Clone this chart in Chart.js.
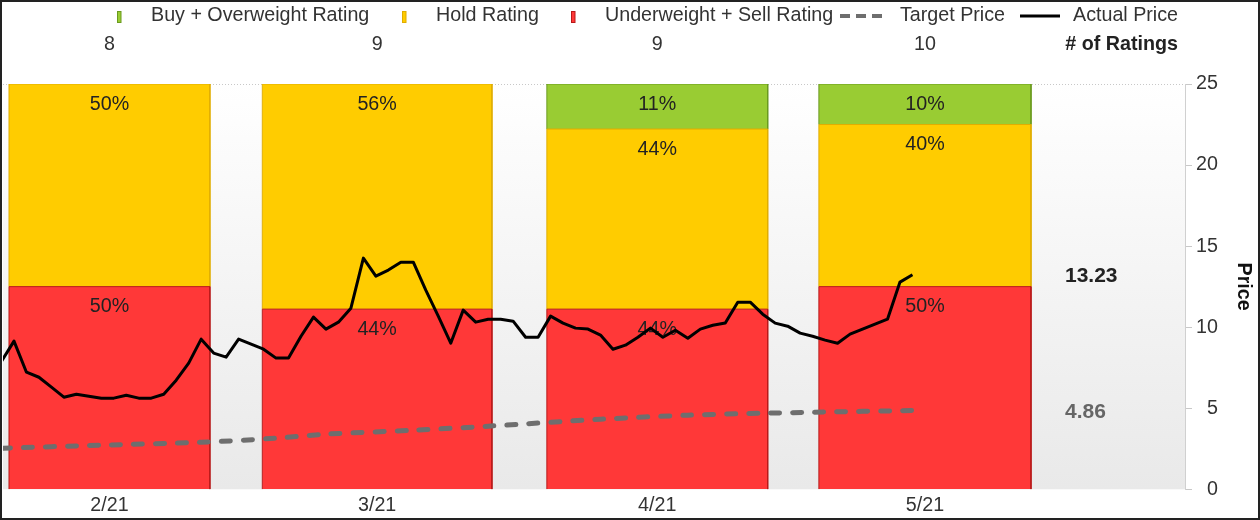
<!DOCTYPE html>
<html><head><meta charset="utf-8">
<script src="https://cdn.jsdelivr.net/npm/chart.js@4.4.0/dist/chart.umd.min.js"></script>
<style>html,body{margin:0;padding:0;background:#fff}#wrap{width:1260px;height:520px;position:relative}</style>
</head><body><div id="wrap"><canvas id="c"></canvas></div>
<script>
// ---- data ----
const months = ['2/21', '3/21', '4/21', '5/21'];
const monthStart = [0.6, 20.9, 43.7, 65.5];   // in trading-day units
const monthEnd = [16.7, 39.3, 61.4, 82.5];
const buyCounts = [0, 0, 1, 1];
const holdCounts = [4, 5, 4, 4];
const sellCounts = [4, 4, 4, 5];
const seriesNames = ['Buy + Overweight Rating', 'Hold Rating', 'Underweight + Sell Rating', 'Target Price', 'Actual Price'];
const actualPrice = [7.90, 9.14, 7.22, 6.91, 6.30, 5.68, 5.86, 5.74, 5.62, 5.62,
  5.80, 5.62, 5.62, 5.86, 6.73, 7.78, 9.26, 8.40, 8.15, 9.26,
  8.95, 8.64, 8.09, 8.09, 9.44, 10.62, 9.88, 10.31, 11.17, 14.26,
  13.15, 13.52, 14.01, 14.01, 12.28, 10.68, 9.01, 11.05, 10.31, 10.49,
  10.49, 10.37, 9.38, 9.38, 10.68, 10.25, 9.94, 9.88, 9.51, 8.64,
  8.89, 9.38, 9.94, 9.38, 9.81, 9.32, 9.88, 10.12, 10.25, 11.54,
  11.54, 10.80, 10.25, 10.06, 9.63, 9.44, 9.20, 9.01, 9.57, 9.88,
  10.19, 10.49, 12.78, 13.23];
const targetDays = [0, 8, 16, 22, 26, 33, 39, 48, 55, 61, 65, 73];
const targetPrice = [2.53, 2.72, 2.90, 3.15, 3.40, 3.64, 3.89, 4.32, 4.57, 4.69, 4.75, 4.86];
const priceMin = 0, priceMax = 25, priceStep = 5;
const priceAxisTitle = 'Price';

// ---- styles ----
const FONT = '"Liberation Sans", Arial, Helvetica, sans-serif';
const FS = 19.7;
const TXT = '#333333';
const ratingStyles = [
  {key: 'sell', counts: sellCounts, fill: '#ff3838', border: '#b81818'},
  {key: 'hold', counts: holdCounts, fill: '#ffcc00', border: '#e0ad00'},
  {key: 'buy',  counts: buyCounts,  fill: '#99cc33', border: '#6a9a1e'}
];

// ---- build rectangle datasets (stacked % boxes) ----
const rectSets = [];
months.forEach((m, mi) => {
  const total = buyCounts[mi] + holdCounts[mi] + sellCounts[mi];
  let cum = 0;
  ratingStyles.forEach(rs => {
    const c = rs.counts[mi];
    if (c > 0) {
      const b = cum / total * 100, t = (cum + c) / total * 100;
      const s = monthStart[mi], e = monthEnd[mi];
      rectSets.push({
        type: 'line', role: 'rect', yAxisID: 'pct', order: 3,
        pctText: Math.round(c / total * 100) + '%', midX: (s + e) / 2, topVal: t,
        data: [{x: s, y: b}, {x: s, y: t}, {x: e, y: t}, {x: e, y: b}],
        fill: {value: b}, backgroundColor: rs.fill, borderColor: rs.border,
        borderWidth: 1, pointRadius: 0, tension: 0
      });
    }
    cum += c;
  });
});

const datasets = rectSets.concat([
  {type: 'line', role: 'target', label: seriesNames[3], yAxisID: 'y', order: 2,
   data: targetDays.map((d, i) => ({x: d, y: targetPrice[i]})),
   borderColor: '#6e6e6e', borderWidth: 5, borderDash: [9, 13], borderCapStyle: 'round',
   pointRadius: 0, tension: 0.3, fill: false},
  {type: 'line', role: 'price', label: seriesNames[4], yAxisID: 'y', order: 1,
   data: actualPrice.map((v, i) => ({x: i, y: v})),
   borderColor: '#000000', borderWidth: 3, borderJoinStyle: 'round',
   pointRadius: 0, tension: 0, fill: false}
]);

const decor = {
  id: 'decor',
  beforeDraw(chart) {
    const {ctx, chartArea: a, width, height} = chart;
    ctx.save();
    ctx.fillStyle = '#fff'; ctx.fillRect(0, 0, width, height);
    const g = ctx.createLinearGradient(0, a.top, 0, a.bottom);
    g.addColorStop(0, '#ffffff'); g.addColorStop(1, '#e9e9e9');
    ctx.fillStyle = g; ctx.fillRect(a.left, a.top, a.right - a.left, a.bottom - a.top);
    ctx.strokeStyle = '#c8c8c8'; ctx.lineWidth = 1; ctx.setLineDash([1, 2]);
    ctx.beginPath(); ctx.moveTo(a.left, a.top + 0.5); ctx.lineTo(a.right, a.top + 0.5); ctx.stroke();
    ctx.restore();
  },
  beforeDatasetDraw(chart, args) {
    const ds = chart.data.datasets[args.index];
    if (ds.role !== 'target') return;
    const {ctx} = chart; const xs = chart.scales.x, ps = chart.scales.pct;
    ctx.save();
    ctx.font = FS + 'px ' + FONT; ctx.fillStyle = '#222'; ctx.textAlign = 'center'; ctx.textBaseline = 'alphabetic';
    chart.data.datasets.forEach(d => {
      if (d.role !== 'rect') return;
      ctx.fillText(d.pctText, xs.getPixelForValue(d.midX), ps.getPixelForValue(d.topVal) + 25.5);
    });
    ctx.restore();
  },
  afterDraw(chart) {
    const {ctx, width, height, chartArea: a} = chart; const xs = chart.scales.x, ys = chart.scales.y;
    ctx.save();
    // legend row
    ctx.font = FS + 'px ' + FONT; ctx.fillStyle = TXT; ctx.textAlign = 'left'; ctx.textBaseline = 'alphabetic';
    const boxes = [[117, 151, ratingStyles[2]], [402, 436, ratingStyles[1]], [571, 605, ratingStyles[0]]];
    boxes.forEach(([bx, tx, rs], i) => {
      ctx.fillStyle = rs.fill; ctx.fillRect(bx, 11, 4, 12);
      ctx.strokeStyle = rs.border; ctx.lineWidth = 1; ctx.strokeRect(bx + 0.5, 11.5, 3.5, 11);
      ctx.fillStyle = TXT; ctx.fillText(seriesNames[i], tx, 21);
    });
    ctx.strokeStyle = '#6e6e6e'; ctx.lineWidth = 4; ctx.setLineDash([10, 6]);
    ctx.beginPath(); ctx.moveTo(840, 16); ctx.lineTo(882, 16); ctx.stroke();
    ctx.setLineDash([]);
    ctx.fillText(seriesNames[3], 900, 21);
    ctx.strokeStyle = '#000'; ctx.lineWidth = 3;
    ctx.beginPath(); ctx.moveTo(1020, 16); ctx.lineTo(1060, 16); ctx.stroke();
    ctx.fillText(seriesNames[4], 1073, 21);
    // counts row
    ctx.textAlign = 'center';
    months.forEach((m, i) => {
      const n = buyCounts[i] + holdCounts[i] + sellCounts[i];
      ctx.fillText(String(n), xs.getPixelForValue((monthStart[i] + monthEnd[i]) / 2), 50);
    });
    ctx.textAlign = 'right'; ctx.font = 'bold ' + FS + 'px ' + FONT; ctx.fillStyle = '#222';
    ctx.fillText('# of Ratings', 1178, 50);
    // last values
    ctx.textAlign = 'left'; ctx.font = 'bold 21px ' + FONT;
    const lastP = actualPrice[actualPrice.length - 1], lastT = targetPrice[targetPrice.length - 1];
    ctx.fillStyle = '#222'; ctx.fillText(lastP.toFixed(2), 1065, ys.getPixelForValue(lastP) + 7.5);
    ctx.fillStyle = '#666'; ctx.fillText(lastT.toFixed(2), 1065, ys.getPixelForValue(lastT) + 7.8);
    // rotated axis title
    ctx.save();
    ctx.translate(1243, (a.top + a.bottom) / 2);
    ctx.rotate(Math.PI / 2);
    ctx.font = 'bold ' + FS + 'px ' + FONT; ctx.fillStyle = '#111';
    ctx.textAlign = 'center'; ctx.textBaseline = 'middle';
    ctx.fillText(priceAxisTitle, 0, 0);
    ctx.restore();
    // frame
    ctx.strokeStyle = '#222'; ctx.lineWidth = 2; ctx.strokeRect(1, 1, width - 2, height - 2);
    ctx.restore();
  }
};

new Chart(document.getElementById('c'), {
  type: 'line',
  data: {datasets},
  options: {
    responsive: true, maintainAspectRatio: false, animation: false, events: [],
    layout: {padding: {top: 84, left: 3, right: 42.1, bottom: -1.9}},
    plugins: {legend: {display: false}, tooltip: {enabled: false}, title: {display: false}},
    scales: {
      x: {
        type: 'linear', position: 'bottom', min: 0.12, max: 94.84,
        grid: {display: false, drawTicks: false}, border: {display: false},
        afterBuildTicks: s => { s.ticks = monthStart.map((v, i) => ({value: (v + monthEnd[i]) / 2})); },
        ticks: {autoSkip: false, maxRotation: 0, padding: 4.5, color: TXT, font: {family: FONT, size: FS},
                callback: (v, i) => months[i]}
      },
      y: {
        type: 'linear', position: 'right', min: priceMin, max: priceMax,
        grid: {display: true, drawOnChartArea: false, drawTicks: true, tickLength: 7, tickColor: '#c8c8c8'},
        border: {display: true, color: '#d0d0d0'},
        ticks: {stepSize: priceStep, crossAlign: 'far', padding: 2, color: TXT, font: {family: FONT, size: FS}},
        title: {display: false}
      },
      pct: {type: 'linear', display: false, min: 0, max: 100}
    }
  },
  plugins: [decor]
});
</script></body></html>
